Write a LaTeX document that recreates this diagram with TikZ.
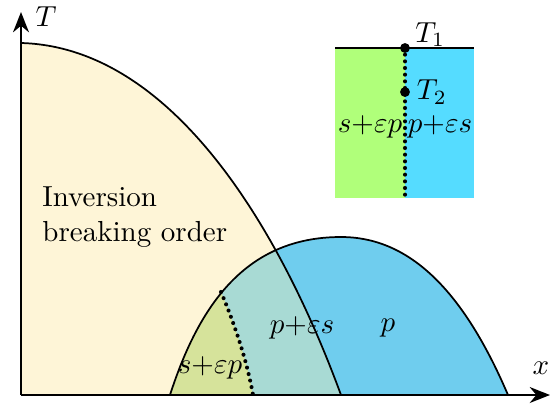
\documentclass[tikz,border=0pt]{standalone}
\usepackage{amsmath}
\usetikzlibrary{
arrows.meta,
positioning
}
\definecolor{PDYellow}{HTML}{FEF5D7}
\definecolor{PDTeal}{HTML}{A8DAD4}
\definecolor{PDOlive}{HTML}{D6E39B}
\definecolor{PDBlue}{HTML}{6FCDEE}
\definecolor{PDGreen}{HTML}{B0FF7A}
\definecolor{PDCyan}{HTML}{55DCFF}
\tikzset{
pdaxis/.style={-{Stealth[length=7pt,width=5.5pt]}, line width=0.75pt},
pdcurve/.style={line width=0.6pt},
pddots/.style={line width=1.4pt, line cap=round, dash pattern=on 0pt off 2.3pt},
pddot/.style={circle, fill=black, inner sep=0pt, minimum size=3.4pt},
pdlabel/.style={inner sep=1pt, font=\normalsize}
}

\begin{document}
\begin{tikzpicture}[x=0.345pt, y=0.345pt]
\useasboundingbox (-21,-8) rectangle (534,395);
\coordinate (O) at (0,0);
\coordinate (xend) at (529,0);
\coordinate (yend) at (0,383);

% inversion breaking region
\fill[PDYellow] (O) -- (0,352) .. controls (150,348) and (258,169) .. (320,0) -- cycle;
% dome
\fill[PDBlue] (149,0) .. controls (178,90) and (225,158) .. (320,158)
  .. controls (385,158) and (440,110) .. (487,0) -- cycle;
\begin{scope}
\clip (O) -- (0,352) .. controls (150,348) and (258,169) .. (320,0) -- cycle;
\fill[PDTeal] (149,0) .. controls (178,90) and (225,158) .. (320,158)
  .. controls (385,158) and (440,110) .. (487,0) -- cycle;
\clip (100,-5) -- (100,200) -- (200,103) .. controls (212,75) and (226,35) .. (232,0) -- (232,-5) -- cycle;
\fill[PDOlive] (149,0) .. controls (178,90) and (225,158) .. (320,158)
  .. controls (385,158) and (440,110) .. (487,0) -- cycle;
\end{scope}

\draw[pdcurve] (0,352) .. controls (150,348) and (258,169) .. (320,0);
\draw[pdcurve] (149,0) .. controls (178,90) and (225,158) .. (320,158)
  .. controls (385,158) and (440,110) .. (487,0);
\draw[pddots] (200,103) .. controls (212,75) and (226,35) .. (232,0);

% axes
\draw[pdaxis] (O) -- (xend);
\draw[pdaxis] (O) -- (yend);
\node[pdlabel] (Tlab) at (25,378) {$T$};
\node[pdlabel] (xlab) at (520,27) {$x$};

% labels in the diagram
\node[pdlabel, anchor=west, align=left] (inv) at (18,178) {Inversion\\breaking order};
\node[pdlabel] (sep) at (189,27) {$s{+}\varepsilon p$};
\node[pdlabel] (pes) at (281,67) {$p{+}\varepsilon s$};
\node[pdlabel] (p) at (367,67) {$p$};

% inset
\fill[PDGreen] (314,197) rectangle (384,347);
\fill[PDCyan] (384,197) rectangle (453,347);
\draw[pdcurve] (314,347) -- (453,347);
\draw[pddots] (384,347) -- (384,197);
\node[pddot] (t1) at (384,347) {};
\node[pddot] (t2) at (384,303) {};
\node[pdlabel, above right=-2pt and 1pt of t1] (T1lab) {$T_1$};
\node[pdlabel, right=1pt of t2] (T2lab) {$T_2$};
\node[pdlabel] (isep) at (349,268) {$s{+}\varepsilon p$};
\node[pdlabel] (ipes) at (419,268) {$p{+}\varepsilon s$};
\end{tikzpicture}
\end{document}
